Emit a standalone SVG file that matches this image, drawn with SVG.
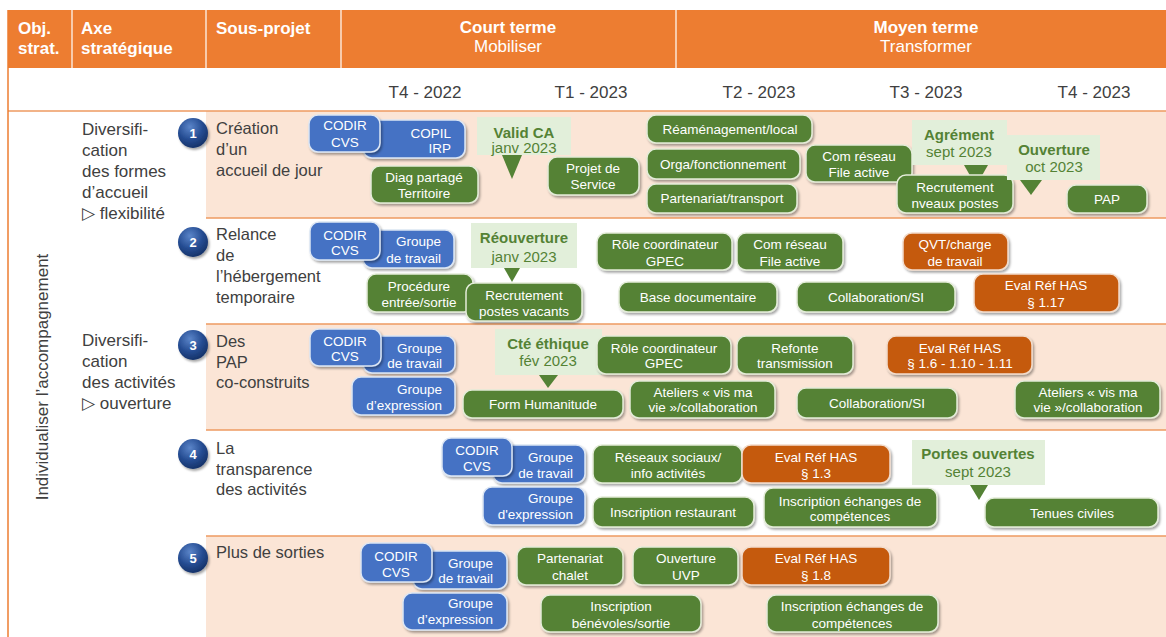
<svg xmlns="http://www.w3.org/2000/svg" width="1166" height="637" viewBox="0 0 1166 637">
<defs>
<filter id="sh" x="-10%" y="-20%" width="130%" height="150%"><feDropShadow dx="1.5" dy="2" stdDeviation="1.2" flood-color="#000" flood-opacity="0.35"/></filter>
<radialGradient id="cg" cx="40%" cy="30%" r="70%"><stop offset="0" stop-color="#5B85C9"/><stop offset="0.6" stop-color="#254C92"/><stop offset="1" stop-color="#16336A"/></radialGradient>
<style>
text{font-family:"Liberation Sans",Arial,sans-serif}
.g{fill:#548235;stroke:#E3ECD8;stroke-width:1.5;filter:url(#sh)}
.b{fill:#4472C4;stroke:#DCE6F4;stroke-width:1.5;filter:url(#sh)}
.o{fill:#C55A11;stroke:#F2DCCB;stroke-width:1.5;filter:url(#sh)}
.c{fill:#E2EFDA}
.tri{fill:#548235}
.t{font-size:13.5px;fill:#fff;text-anchor:middle}
.te{font-size:13.5px;fill:#fff;text-anchor:end}
.ct{font-size:15px;fill:#548235;text-anchor:middle}
.ctb{font-size:15px;fill:#548235;text-anchor:middle;font-weight:bold}
.h{font-size:17px;fill:#fff;font-weight:bold}
.hc{font-size:17px;fill:#fff;text-anchor:middle}
.tl{font-size:17px;fill:#404040;text-anchor:middle}
.ax{font-size:17px;fill:#404040}
.sp{font-size:16.5px;fill:#404040}
.num{font-size:13px;fill:#fff;font-weight:bold;text-anchor:middle}
.sep{stroke:#EE9A60;stroke-width:1.5}
</style>
</defs>
<rect width="1166" height="637" fill="#fff"/>
<!-- header -->
<g id="header">
<rect x="8" y="10" width="1158" height="58" fill="#ED7D31"/>
<g stroke="#fff" stroke-width="1.2"><line x1="72" y1="10" x2="72" y2="68"/><line x1="206" y1="10" x2="206" y2="68"/><line x1="341" y1="10" x2="341" y2="68"/><line x1="676" y1="10" x2="676" y2="68"/></g>
<text class="h" x="18" y="34">Obj.</text><text class="h" x="18" y="54">strat.</text>
<text class="h" x="81" y="34">Axe</text><text class="h" x="81" y="54">stratégique</text>
<text class="h" x="216" y="34">Sous-projet</text>
<text class="hc" x="508" y="33" font-weight="bold">Court terme</text><text class="hc" x="508" y="52">Mobiliser</text>
<text class="hc" x="926" y="33" font-weight="bold">Moyen terme</text><text class="hc" x="926" y="52">Transformer</text>
</g>
<g id="timeline">
<text class="tl" x="425" y="98">T4 - 2022</text>
<text class="tl" x="591" y="98">T1 - 2023</text>
<text class="tl" x="759" y="98">T2 - 2023</text>
<text class="tl" x="926" y="98">T3 - 2023</text>
<text class="tl" x="1094" y="98">T4 - 2023</text>
</g>
<!-- bands -->
<g id="bands">
<rect x="206" y="111" width="960" height="107" fill="#FBE5D6"/>
<rect x="206" y="324" width="960" height="106" fill="#FBE5D6"/>
<rect x="206" y="536" width="960" height="101" fill="#FBE5D6"/>
<line class="sep" x1="8" y1="111" x2="1166" y2="111" stroke-width="2.5" stroke="#F4B183"/>
<line class="sep" x1="206" y1="218" x2="1166" y2="218"/>
<line class="sep" x1="206" y1="324" x2="1166" y2="324"/>
<line class="sep" x1="206" y1="430" x2="1166" y2="430"/>
<line class="sep" x1="206" y1="536" x2="1166" y2="536"/>
<line x1="8" y1="10" x2="8" y2="637" stroke="#ED7D31" stroke-width="1.5"/>
</g>
<g id="objectif"><text class="ax" transform="translate(48,377) rotate(-90)" text-anchor="middle">Individualiser l’accompagnement</text></g>
<g id="axe1"><text class="ax" x="82" y="135">Diversifi-</text><text class="ax" x="82" y="156">cation</text><text class="ax" x="82" y="177">des formes</text><text class="ax" x="82" y="198">d’accueil</text><text class="ax" x="82" y="219">▷ flexibilité</text></g>
<g id="axe2"><text class="ax" x="82" y="346">Diversifi-</text><text class="ax" x="82" y="367">cation</text><text class="ax" x="82" y="388">des activités</text><text class="ax" x="82" y="409">▷ ouverture</text></g>
<!-- sous-projets -->
<g id="sp1"><circle cx="193" cy="133" r="15" fill="url(#cg)" filter="url(#sh)"/><text class="num" x="193" y="138">1</text><text class="sp" x="216" y="134">Création</text><text class="sp" x="216" y="155">d’un</text><text class="sp" x="216" y="176">accueil de jour</text></g>
<g id="sp2"><circle cx="193" cy="242" r="15" fill="url(#cg)" filter="url(#sh)"/><text class="num" x="193" y="247">2</text><text class="sp" x="216" y="240">Relance</text><text class="sp" x="216" y="261">de</text><text class="sp" x="216" y="282">l’hébergement</text><text class="sp" x="216" y="303">temporaire</text></g>
<g id="sp3"><circle cx="193" cy="345" r="15" fill="url(#cg)" filter="url(#sh)"/><text class="num" x="193" y="350">3</text><text class="sp" x="216" y="347">Des</text><text class="sp" x="216" y="368">PAP</text><text class="sp" x="216" y="388">co-construits</text></g>
<g id="sp4"><circle cx="193" cy="454" r="15" fill="url(#cg)" filter="url(#sh)"/><text class="num" x="193" y="459">4</text><text class="sp" x="216" y="454">La</text><text class="sp" x="216" y="475">transparence</text><text class="sp" x="216" y="495">des activités</text></g>
<g id="sp5"><circle cx="193" cy="558" r="15" fill="url(#cg)" filter="url(#sh)"/><text class="num" x="193" y="563">5</text><text class="sp" x="216" y="558">Plus de sorties</text></g>

<!-- Row 1 -->
<g id="r1-copil"><rect class="b" x="363" y="120" width="102" height="38" rx="9"/><text class="te" x="451" y="138">COPIL</text><text class="te" x="451" y="153">IRP</text></g>
<g id="r1-codir"><rect class="b" x="309" y="115" width="71" height="37" rx="9"/><text class="t" x="345" y="130">CODIR</text><text class="t" x="345" y="147">CVS</text></g>
<g id="r1-valid"><rect class="c" x="477" y="117" width="94" height="38"/><polygon class="tri" points="502,155 522,155 512,179"/><text class="ctb" x="524" y="138">Valid CA</text><text class="ct" x="524" y="153">janv 2023</text></g>
<g id="r1-diag"><rect class="g" x="371" y="166" width="107" height="37" rx="9"/><text class="t" x="424" y="182">Diag partagé</text><text class="t" x="424" y="198">Territoire</text></g>
<g id="r1-projet"><rect class="g" x="548" y="157" width="91" height="38" rx="9"/><text class="t" x="593" y="173">Projet de</text><text class="t" x="593" y="189">Service</text></g>
<g id="r1-ream"><rect class="g" x="647" y="115" width="165" height="28" rx="9"/><text class="t" x="730" y="134">Réaménagement/local</text></g>
<g id="r1-orga"><rect class="g" x="647" y="149" width="153" height="30" rx="9"/><text class="t" x="723" y="169">Orga/fonctionnement</text></g>
<g id="r1-part"><rect class="g" x="647" y="184" width="150" height="29" rx="9"/><text class="t" x="722" y="203">Partenariat/transport</text></g>
<g id="r1-com"><rect class="g" x="806" y="145" width="106" height="37" rx="9"/><text class="t" x="859" y="161">Com réseau</text><text class="t" x="859" y="177">File active</text></g>
<g id="r1-agrement"><rect class="c" x="912" y="120" width="95" height="45"/><polygon class="tri" points="964,165 988,165 976,186"/><text class="ctb" x="959" y="140">Agrément</text><text class="ct" x="959" y="157">sept 2023</text></g>
<g id="r1-recrut"><rect class="g" x="897" y="175" width="116" height="38" rx="9"/><text class="t" x="955" y="192">Recrutement</text><text class="t" x="955" y="208">nveaux postes</text></g>
<g id="r1-ouverture"><rect class="c" x="1007" y="135" width="93" height="45"/><polygon class="tri" points="1020,180 1042,180 1031,195"/><text class="ctb" x="1054" y="155">Ouverture</text><text class="ct" x="1054" y="172">oct 2023</text></g>
<g id="r1-pap"><rect class="g" x="1067" y="185" width="80" height="28" rx="9"/><text class="t" x="1107" y="204">PAP</text></g>

<!-- Row 2 -->
<g id="r2-gt"><rect class="b" x="363" y="230" width="91" height="38" rx="9"/><text class="te" x="441" y="246">Groupe</text><text class="te" x="441" y="263">de travail</text></g>
<g id="r2-codir"><rect class="b" x="310" y="222" width="70" height="38" rx="9"/><text class="t" x="345" y="240">CODIR</text><text class="t" x="345" y="255">CVS</text></g>
<g id="r2-reouv"><rect class="c" x="471" y="223" width="106" height="45"/><polygon class="tri" points="504,268 520,268 512,282"/><text class="ctb" x="524" y="243">Réouverture</text><text class="ct" x="524" y="262">janv 2023</text></g>
<g id="r2-proc"><rect class="g" x="367" y="274" width="106" height="38" rx="9"/><text class="t" x="419" y="291">Procédure</text><text class="t" x="419" y="307">entrée/sortie</text></g>
<g id="r2-recrut"><rect class="g" x="466" y="283" width="116" height="38" rx="9"/><text class="t" x="524" y="300">Recrutement</text><text class="t" x="524" y="316">postes vacants</text></g>
<g id="r2-role"><rect class="g" x="597" y="233" width="135" height="37" rx="9"/><text class="t" x="665" y="249">Rôle coordinateur</text><text class="t" x="665" y="266">GPEC</text></g>
<g id="r2-com"><rect class="g" x="737" y="233" width="106" height="37" rx="9"/><text class="t" x="790" y="249">Com réseau</text><text class="t" x="790" y="266">File active</text></g>
<g id="r2-base"><rect class="g" x="619" y="282" width="158" height="30" rx="9"/><text class="t" x="698" y="302">Base documentaire</text></g>
<g id="r2-collab"><rect class="g" x="797" y="282" width="158" height="30" rx="9"/><text class="t" x="876" y="302">Collaboration/SI</text></g>
<g id="r2-qvt"><rect class="o" x="903" y="233" width="105" height="37" rx="9"/><text class="t" x="955" y="249">QVT/charge</text><text class="t" x="955" y="266">de travail</text></g>
<g id="r2-eval"><rect class="o" x="974" y="274" width="145" height="38" rx="9"/><text class="t" x="1046" y="290">Eval Réf HAS</text><text class="t" x="1046" y="307">§ 1.17</text></g>

<!-- Row 3 -->
<g id="r3-gt"><rect class="b" x="363" y="336" width="92" height="37" rx="9"/><text class="te" x="442" y="353">Groupe</text><text class="te" x="442" y="368">de travail</text></g>
<g id="r3-codir"><rect class="b" x="310" y="329" width="71" height="37" rx="9"/><text class="t" x="345" y="346">CODIR</text><text class="t" x="345" y="361">CVS</text></g>
<g id="r3-gexp"><rect class="b" x="352" y="377" width="103" height="38" rx="9"/><text class="te" x="442" y="394">Groupe</text><text class="te" x="442" y="410">d’expression</text></g>
<g id="r3-cte"><rect class="c" x="495" y="329" width="107" height="46"/><polygon class="tri" points="539,375 558,375 548,388"/><text class="ctb" x="548" y="349">Cté éthique</text><text class="ct" x="548" y="366">fév 2023</text></g>
<g id="r3-form"><rect class="g" x="463" y="390" width="160" height="28" rx="9"/><text class="t" x="543" y="409">Form Humanitude</text></g>
<g id="r3-role"><rect class="g" x="597" y="336" width="134" height="38" rx="9"/><text class="t" x="664" y="353">Rôle coordinateur</text><text class="t" x="664" y="368">GPEC</text></g>
<g id="r3-refonte"><rect class="g" x="737" y="336" width="116" height="38" rx="9"/><text class="t" x="795" y="353">Refonte</text><text class="t" x="795" y="368">transmission</text></g>
<g id="r3-atel1"><rect class="g" x="630" y="381" width="145" height="37" rx="9"/><text class="t" x="703" y="397">Ateliers « vis ma</text><text class="t" x="703" y="412">vie »/collaboration</text></g>
<g id="r3-eval"><rect class="o" x="887" y="336" width="145" height="38" rx="9"/><text class="t" x="960" y="353">Eval Réf HAS</text><text class="t" x="960" y="368">§ 1.6 - 1.10 - 1.11</text></g>
<g id="r3-collab"><rect class="g" x="797" y="388" width="160" height="30" rx="9"/><text class="t" x="877" y="408">Collaboration/SI</text></g>
<g id="r3-atel2"><rect class="g" x="1015" y="381" width="145" height="37" rx="9"/><text class="t" x="1088" y="397">Ateliers « vis ma</text><text class="t" x="1088" y="412">vie »/collaboration</text></g>

<!-- Row 4 -->
<g id="r4-gt"><rect class="b" x="493" y="445" width="92" height="38" rx="9"/><text class="te" x="573" y="462">Groupe</text><text class="te" x="573" y="478">de travail</text></g>
<g id="r4-codir"><rect class="b" x="442" y="438" width="70" height="38" rx="9"/><text class="t" x="477" y="455">CODIR</text><text class="t" x="477" y="471">CVS</text></g>
<g id="r4-gexp"><rect class="b" x="483" y="487" width="102" height="38" rx="9"/><text class="te" x="573" y="503">Groupe</text><text class="te" x="573" y="519">d'expression</text></g>
<g id="r4-reseaux"><rect class="g" x="593" y="445" width="149" height="38" rx="9"/><text class="t" x="668" y="462">Réseaux sociaux/</text><text class="t" x="668" y="478">info activités</text></g>
<g id="r4-resto"><rect class="g" x="593" y="497" width="161" height="30" rx="9"/><text class="t" x="673" y="517">Inscription restaurant</text></g>
<g id="r4-eval"><rect class="o" x="742" y="445" width="148" height="38" rx="9"/><text class="t" x="816" y="462">Eval Réf HAS</text><text class="t" x="816" y="478">§ 1.3</text></g>
<g id="r4-ech"><rect class="g" x="764" y="488" width="173" height="39" rx="9"/><text class="t" x="850" y="506">Inscription échanges de</text><text class="t" x="850" y="521">compétences</text></g>
<g id="r4-portes"><rect class="c" x="912" y="440" width="133" height="45"/><polygon class="tri" points="970,485 988,485 979,500"/><text class="ctb" x="978" y="459">Portes ouvertes</text><text class="ct" x="978" y="477">sept 2023</text></g>
<g id="r4-tenues"><rect class="g" x="985" y="498" width="173" height="29" rx="9"/><text class="t" x="1072" y="518">Tenues civiles</text></g>

<!-- Row 5 -->
<g id="r5-gt"><rect class="b" x="413" y="551" width="94" height="38" rx="9"/><text class="te" x="493" y="568">Groupe</text><text class="te" x="493" y="583">de travail</text></g>
<g id="r5-codir"><rect class="b" x="361" y="543" width="71" height="39" rx="9"/><text class="t" x="396" y="561">CODIR</text><text class="t" x="396" y="577">CVS</text></g>
<g id="r5-gexp"><rect class="b" x="403" y="593" width="104" height="37" rx="9"/><text class="te" x="493" y="608">Groupe</text><text class="te" x="493" y="624">d’expression</text></g>
<g id="r5-chalet"><rect class="g" x="517" y="547" width="106" height="38" rx="9"/><text class="t" x="570" y="563">Partenariat</text><text class="t" x="570" y="580">chalet</text></g>
<g id="r5-uvp"><rect class="g" x="633" y="547" width="105" height="38" rx="9"/><text class="t" x="686" y="563">Ouverture</text><text class="t" x="686" y="580">UVP</text></g>
<g id="r5-eval"><rect class="o" x="742" y="547" width="148" height="38" rx="9"/><text class="t" x="816" y="563">Eval Réf HAS</text><text class="t" x="816" y="580">§ 1.8</text></g>
<g id="r5-benev"><rect class="g" x="541" y="595" width="160" height="37" rx="9"/><text class="t" x="621" y="611">Inscription</text><text class="t" x="621" y="628">bénévoles/sortie</text></g>
<g id="r5-ech"><rect class="g" x="767" y="595" width="171" height="37" rx="9"/><text class="t" x="852" y="611">Inscription échanges de</text><text class="t" x="852" y="628">compétences</text></g>
<g id="connectors"></g>
</svg>
